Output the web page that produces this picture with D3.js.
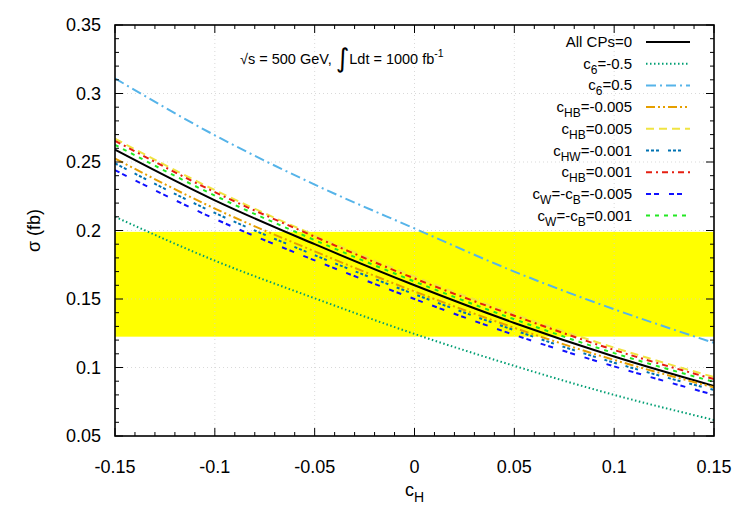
<!DOCTYPE html>
<html>
<head>
<meta charset="utf-8">
<script src="https://cdn.jsdelivr.net/npm/d3@7"></script>
<style>
  body { margin: 0; background: #fff; }
  svg { font-family: "Liberation Sans", Arial, sans-serif; }
</style>
</head>
<body>
<script>
// c_H grid the curves were read at
const cH = [-0.15, -0.1, -0.05, 0, 0.05, 0.1, 0.15];

// sigma (fb) for each curve
const allCPs0   = [0.259, 0.222, 0.190, 0.160, 0.1325, 0.108, 0.0865];
const c6m05     = [0.210, 0.178, 0.1505, 0.1245, 0.1012, 0.080, 0.0617];
const c6p05     = [0.311, 0.2695, 0.2335, 0.2015, 0.1700, 0.1425, 0.118];
const cHBm0005  = [0.2525, 0.216, 0.1848, 0.1555, 0.129, 0.1055, 0.0855];
const cHBp0005  = [0.267, 0.2295, 0.1965, 0.1665, 0.139, 0.1145, 0.093];
const cHWm0001  = [0.249, 0.2128, 0.182, 0.1535, 0.1272, 0.1035, 0.0836];
const cHBp0001  = [0.2655, 0.228, 0.1955, 0.165, 0.1378, 0.1128, 0.0915];
const cWBm0005  = [0.244, 0.2085, 0.1782, 0.150, 0.1238, 0.1008, 0.080];
const cWBp0001  = [0.2625, 0.2255, 0.193, 0.1628, 0.1352, 0.1105, 0.0895];

// yellow band
const band = [0.1225, 0.199];

const xTicks = [-0.15, -0.1, -0.05, 0, 0.05, 0.1, 0.15];
const yTicks = [0.05, 0.1, 0.15, 0.2, 0.25, 0.3, 0.35];

// label parts: [text, sub]
const series = [
  {label: [["All CPs=0"]], v: allCPs0, color: "#000000", dash: null, w: 2},
  {label: [["c"], ["6", 1], ["=-0.5"]], v: c6m05, color: "#009e73", dash: "1.5,2.5", w: 2},
  {label: [["c"], ["6", 1], ["=0.5"]], v: c6p05, color: "#56b4e9", dash: "10,4,2,4", w: 2},
  {label: [["c"], ["HB", 1], ["=-0.005"]], v: cHBm0005, color: "#e69f00", dash: "9,3,2,3,2,3", w: 2},
  {label: [["c"], ["HB", 1], ["=0.005"]], v: cHBp0005, color: "#f0e442", dash: "8,5", w: 2},
  {label: [["c"], ["HW", 1], ["=-0.001"]], v: cHWm0001, color: "#0072b2", dash: "3,2,3,2,3,9", w: 2},
  {label: [["c"], ["HB", 1], ["=0.001"]], v: cHBp0001, color: "#e51e10", dash: "6,4,2,4", w: 2},
  {label: [["c"], ["W", 1], ["=-c"], ["B", 1], ["=-0.005"]], v: cWBm0005, color: "#1010ff", dash: "5,3,5,10", w: 2},
  {label: [["c"], ["W", 1], ["=-c"], ["B", 1], ["=0.001"]], v: cWBp0001, color: "#22e822", dash: "4,5", w: 2}
];

const width = 750, height = 525;
const margin = {left: 115, right: 36, top: 25, bottom: 89};

const svg = d3.select("body").append("svg")
  .attr("width", width)
  .attr("height", height);

const x = d3.scaleLinear().domain([-0.15, 0.15]).range([margin.left, width - margin.right]);
const y = d3.scaleLinear().domain([0.05, 0.35]).range([height - margin.bottom, margin.top]);

const x0 = x.range()[0], x1 = x.range()[1], y0 = y.range()[0], y1 = y.range()[1];

// band
svg.append("rect")
  .attr("x", x0).attr("width", x1 - x0)
  .attr("y", y(band[1])).attr("height", y(band[0]) - y(band[1]))
  .attr("fill", "#ffff00");

// grid
const grid = svg.append("g").attr("stroke", "#cfcfcf").attr("stroke-width", 0.8).attr("stroke-dasharray", "1,3");
xTicks.slice(1, -1).forEach(t => {
  grid.append("line").attr("x1", x(t)).attr("x2", x(t)).attr("y1", y0).attr("y2", y1);
});
yTicks.slice(1, -1).forEach(t => {
  grid.append("line").attr("x1", x0).attr("x2", x1).attr("y1", y(t)).attr("y2", y(t));
});

// curves
const line = d3.line()
  .x((d, i) => x(cH[i]))
  .y(d => y(d))
  .curve(d3.curveMonotoneX);

svg.append("clipPath").attr("id", "plotclip")
  .append("rect").attr("x", x0).attr("y", y1).attr("width", x1 - x0).attr("height", y0 - y1);

svg.append("g").attr("clip-path", "url(#plotclip)")
  .selectAll("path")
  .data(series)
  .join("path")
  .attr("d", d => line(d.v))
  .attr("fill", "none")
  .attr("stroke", d => d.color)
  .attr("stroke-width", d => d.w)
  .attr("stroke-dasharray", d => d.dash);

// ticks on all four sides, pointing inward
const minorX = d3.range(-0.15, 0.1501, 0.01);
const minorY = d3.range(0.05, 0.3501, 0.01);
const tk = svg.append("g").attr("stroke", "#000").attr("stroke-width", 1);
minorX.forEach(t => {
  const major = xTicks.some(m => Math.abs(m - t) < 1e-6);
  const L = major ? 8 : 4;
  tk.append("line").attr("x1", x(t)).attr("x2", x(t)).attr("y1", y0).attr("y2", y0 - L);
  tk.append("line").attr("x1", x(t)).attr("x2", x(t)).attr("y1", y1).attr("y2", y1 + L);
});
minorY.forEach(t => {
  const major = yTicks.some(m => Math.abs(m - t) < 1e-6);
  const L = major ? 8 : 4;
  tk.append("line").attr("x1", x0).attr("x2", x0 + L).attr("y1", y(t)).attr("y2", y(t));
  tk.append("line").attr("x1", x1).attr("x2", x1 - L).attr("y1", y(t)).attr("y2", y(t));
});

// frame
svg.append("rect")
  .attr("x", x0).attr("y", y1).attr("width", x1 - x0).attr("height", y0 - y1)
  .attr("fill", "none").attr("stroke", "#000").attr("stroke-width", 1.6);

// tick labels (plain hyphen minus like gnuplot)
svg.append("g").selectAll("text").data(xTicks).join("text")
  .attr("x", d => x(d)).attr("y", y0 + 37)
  .attr("text-anchor", "middle")
  .attr("font-size", 18)
  .text(d => String(d));

svg.append("g").selectAll("text").data(yTicks).join("text")
  .attr("x", x0 - 14).attr("y", d => y(d) + 6)
  .attr("text-anchor", "end")
  .attr("font-size", 18)
  .text(d => String(d));

// axis titles
const xt = svg.append("text")
  .attr("x", (x0 + x1) / 2).attr("y", y0 + 60)
  .attr("text-anchor", "middle")
  .attr("font-size", 18);
xt.append("tspan").text("c");
xt.append("tspan").attr("dy", 6).attr("font-size", 14).text("H");

svg.append("text")
  .attr("transform", `translate(40,${(y0 + y1) / 2}) rotate(-90)`)
  .attr("text-anchor", "middle")
  .attr("font-size", 18)
  .text("σ (fb)");

// annotation
const ann = svg.append("text")
  .attr("x", 240).attr("y", 64)
  .attr("font-size", 14.5);
ann.append("tspan").text("√s = 500 GeV, ");
ann.append("tspan").attr("font-size", 26).attr("dy", 3).attr("font-family", "DejaVu Sans").text("∫");
ann.append("tspan").attr("dy", -3).text("Ldt = 1000 fb");
ann.append("tspan").attr("dy", -7).attr("font-size", 10.5).text("-1");

// legend
const legend = svg.append("g");
series.forEach((s, i) => {
  const ly = 42 + i * 21.7;
  const t = legend.append("text")
    .attr("x", 632).attr("y", ly + 5)
    .attr("text-anchor", "end")
    .attr("font-size", 15);
  let shifted = false;
  s.label.forEach(p => {
    const ts = t.append("tspan").text(p[0]);
    if (p[1]) { ts.attr("dy", 5).attr("font-size", 12); shifted = true; }
    else if (shifted) { ts.attr("dy", -5); shifted = false; }
  });
  legend.append("line")
    .attr("x1", 646).attr("x2", 690).attr("y1", ly).attr("y2", ly)
    .attr("stroke", s.color).attr("stroke-width", s.w)
    .attr("stroke-dasharray", s.dash);
});
</script>
</body>
</html>
